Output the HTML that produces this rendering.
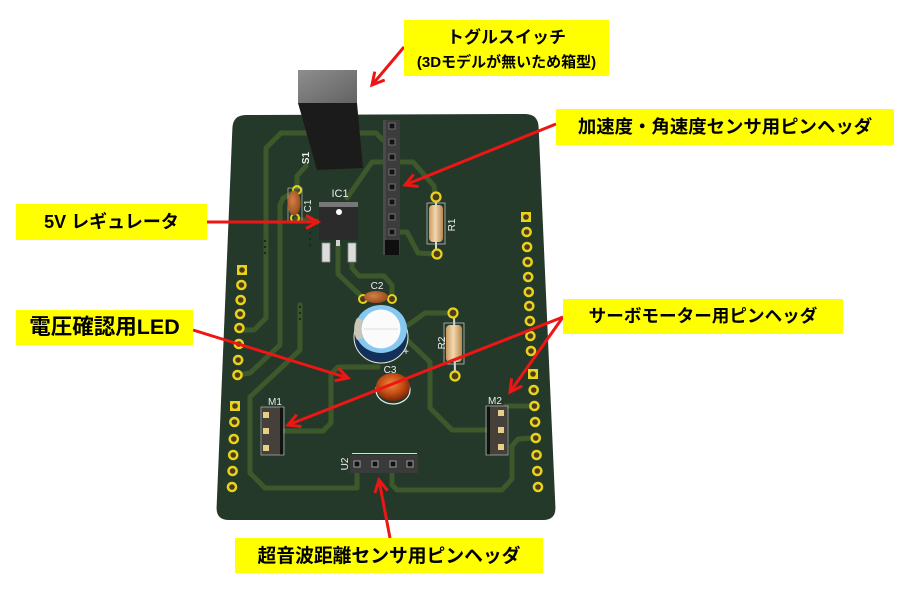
<!DOCTYPE html>
<html><head><meta charset="utf-8">
<style>
html,body{margin:0;padding:0;background:#fff;}
body{width:903px;height:590px;position:relative;overflow:hidden;}
svg{position:absolute;left:0;top:0;}
.lb{position:absolute;background:#ffff00;font-family:"Liberation Sans","Noto Sans CJK JP",sans-serif;font-weight:700;color:#000;white-space:nowrap;text-align:center;}
.ln{position:absolute;left:0;right:0;text-align:center;}
</style></head><body>
<svg width="903" height="590" viewBox="0 0 903 590">
<defs>
 <marker id="ah" markerUnits="userSpaceOnUse" markerWidth="22" markerHeight="22" viewBox="0 0 22 22" refX="16" refY="11" orient="auto">
  <path d="M4,4.5 L16,11 L4,17.5" fill="none" stroke="#ee1515" stroke-width="3"/>
 </marker>
 <linearGradient id="gtop" x1="0" y1="0" x2="1" y2="1">
  <stop offset="0" stop-color="#8e8e8e"/><stop offset="1" stop-color="#626262"/>
 </linearGradient>
 <linearGradient id="res" x1="0" y1="0" x2="1" y2="0">
  <stop offset="0" stop-color="#c89a60"/><stop offset="0.45" stop-color="#f2d8b0"/><stop offset="1" stop-color="#b88850"/>
 </linearGradient>
 <radialGradient id="led" cx="0.45" cy="0.4" r="0.6">
  <stop offset="0" stop-color="#f0883a"/><stop offset="0.6" stop-color="#c04a14"/><stop offset="1" stop-color="#7a2606"/>
 </radialGradient>
 <radialGradient id="cap" cx="0.4" cy="0.4" r="0.6">
  <stop offset="0" stop-color="#d28048"/><stop offset="1" stop-color="#9a4e1c"/>
 </radialGradient>
</defs>

<!-- board -->
<path d="M246,115 L525,114 Q538,114 538.6,127 L555.4,507 Q556,520 543,520 L229,520 Q216,520 216.6,507 L232.4,128 Q233,115 246,115 Z" fill="#24392a"/>

<!-- traces -->
<g fill="none" stroke="#3d592b" stroke-width="5" stroke-linejoin="round" stroke-linecap="round">
 <path d="M383,140 L376,133 L281,133 L266,148 L266,318 L254,330 L240,330"/>
 <path d="M297,190 L297,176 L306,166"/>
 <path d="M293,193 L283,198 L280,205 L280,345 L250,373 L238,375"/>
 <path d="M300,305 L300,350 L250,397 L250,473 L265,488 L357,488 L357,473"/>
 <path d="M283,431 L323,431 L331,423 L331,374 L338,367 L378,367"/>
 <path d="M404,328 L425,313 L452,313"/>
 <path d="M405,338 L430,362 L430,408 L452,430 L488,430"/>
 <path d="M392,473 L392,485 L397,490 L502,490 L512,479 L512,446 L518,439 L533,438"/>
 <path d="M506,406 L533,406"/>
 <path d="M338,245 L338,274 L358,293 L363,298"/>
 <path d="M352,262 L352,268 L359,276 L384,276 L392,285 L392,298"/>
 <path d="M399,162 L413,162 L434,186 L435,195"/>
 <path d="M383,162 L372,162 L347,198"/>
 <path d="M399,232 L407,232 L418,253 L436,254"/>
 <path d="M319,222 L296,219"/>
</g>
<!-- vias dots -->
<g fill="#1a2a1c">
 <circle cx="265" cy="241" r="1.2"/><circle cx="265" cy="247" r="1.2"/><circle cx="265" cy="253" r="1.2"/>
 <circle cx="310" cy="233" r="1.2"/><circle cx="310" cy="239" r="1.2"/><circle cx="310" cy="245" r="1.2"/>
 <circle cx="300" cy="307" r="1.2"/><circle cx="300" cy="313" r="1.2"/><circle cx="300" cy="319" r="1.2"/>
</g>

<!-- pads -->
<g>
 <rect x="521" y="212" width="10" height="10" fill="#e8d21c"/><circle cx="526" cy="217" r="2.8" fill="#4a3c1a"/>
 <g fill="#e8d21c">
  <circle cx="526.6" cy="232" r="5.3"/><circle cx="527.1" cy="247" r="5.3"/><circle cx="527.7" cy="262" r="5.3"/><circle cx="528.2" cy="277" r="5.3"/><circle cx="528.8" cy="292" r="5.3"/><circle cx="529.3" cy="306" r="5.3"/><circle cx="529.9" cy="321" r="5.3"/><circle cx="530.4" cy="336" r="5.3"/><circle cx="531" cy="351" r="5.3"/>
 </g>
 <g fill="#4a3c1a">
  <circle cx="526.6" cy="232" r="2.8"/><circle cx="527.1" cy="247" r="2.8"/><circle cx="527.7" cy="262" r="2.8"/><circle cx="528.2" cy="277" r="2.8"/><circle cx="528.8" cy="292" r="2.8"/><circle cx="529.3" cy="306" r="2.8"/><circle cx="529.9" cy="321" r="2.8"/><circle cx="530.4" cy="336" r="2.8"/><circle cx="531" cy="351" r="2.8"/>
 </g>
 <rect x="528" y="369" width="10" height="10" fill="#e8d21c"/><circle cx="533" cy="374" r="2.8" fill="#4a3c1a"/>
 <g fill="#e8d21c">
  <circle cx="533.7" cy="390" r="5.3"/><circle cx="534.4" cy="406" r="5.3"/><circle cx="535.1" cy="422" r="5.3"/><circle cx="535.8" cy="438" r="5.3"/><circle cx="536.6" cy="455" r="5.3"/><circle cx="537.3" cy="471" r="5.3"/><circle cx="538" cy="487" r="5.3"/>
 </g>
 <g fill="#4a3c1a">
  <circle cx="533.7" cy="390" r="2.8"/><circle cx="534.4" cy="406" r="2.8"/><circle cx="535.1" cy="422" r="2.8"/><circle cx="535.8" cy="438" r="2.8"/><circle cx="536.6" cy="455" r="2.8"/><circle cx="537.3" cy="471" r="2.8"/><circle cx="538" cy="487" r="2.8"/>
 </g>
 <rect x="237" y="265" width="10" height="10" fill="#e8d21c"/><circle cx="242" cy="270" r="2.8" fill="#4a3c1a"/>
 <g fill="#e8d21c">
  <circle cx="241.4" cy="285" r="5.3"/><circle cx="240.7" cy="300" r="5.3"/><circle cx="240.1" cy="314" r="5.3"/><circle cx="239.4" cy="328" r="5.3"/><circle cx="238.8" cy="344" r="5.3"/><circle cx="238.1" cy="360" r="5.3"/><circle cx="237.5" cy="375" r="5.3"/>
 </g>
 <g fill="#4a3c1a">
  <circle cx="241.4" cy="285" r="2.8"/><circle cx="240.7" cy="300" r="2.8"/><circle cx="240.1" cy="314" r="2.8"/><circle cx="239.4" cy="328" r="2.8"/><circle cx="238.8" cy="344" r="2.8"/><circle cx="238.1" cy="360" r="2.8"/><circle cx="237.5" cy="375" r="2.8"/>
 </g>
 <rect x="230" y="401" width="10" height="10" fill="#e8d21c"/><circle cx="235" cy="406" r="2.8" fill="#4a3c1a"/>
 <g fill="#e8d21c">
  <circle cx="234.4" cy="422" r="5.3"/><circle cx="233.8" cy="439" r="5.3"/><circle cx="233.2" cy="455" r="5.3"/><circle cx="232.6" cy="471" r="5.3"/><circle cx="232" cy="487" r="5.3"/>
 </g>
 <g fill="#4a3c1a">
  <circle cx="234.4" cy="422" r="2.8"/><circle cx="233.8" cy="439" r="2.8"/><circle cx="233.2" cy="455" r="2.8"/><circle cx="232.6" cy="471" r="2.8"/><circle cx="232" cy="487" r="2.8"/>
 </g>
</g>

<!-- toggle switch -->
<polygon points="298,103 357,103 363,168 317,170" fill="#1b1b1b"/>
<rect x="298" y="70" width="59" height="33" fill="url(#gtop)"/>

<!-- C1 -->
<rect x="288" y="188" width="14" height="34" fill="none" stroke="#cfcfcf" stroke-width="0.6"/>
<circle cx="297" cy="190" r="4" fill="none" stroke="#e8d21c" stroke-width="2"/>
<circle cx="295" cy="218" r="4" fill="none" stroke="#e8d21c" stroke-width="2"/>
<ellipse cx="294" cy="203" rx="6.5" ry="12.5" fill="url(#cap)"/>

<!-- IC1 -->
<rect x="319" y="203" width="39" height="37" fill="#2b2b2b"/>
<rect x="319" y="202" width="39" height="5" fill="#777"/>
<circle cx="339" cy="212" r="3" fill="#fff"/>
<rect x="322" y="243" width="8" height="19" fill="#dcdcdc" stroke="#8a8a8a" stroke-width="0.8"/>
<rect x="348" y="243" width="8" height="19" fill="#dcdcdc" stroke="#8a8a8a" stroke-width="0.8"/>
<rect x="336" y="240" width="4" height="6" fill="#d0d0d0"/>

<!-- female header -->
<rect x="383" y="120" width="17" height="135" fill="#3c3c3c"/>
<rect x="383" y="120" width="3" height="135" fill="#4a4a4a"/>
<g fill="#121212" stroke="#707070" stroke-width="1">
 <rect x="389" y="123" width="6" height="6"/><rect x="389" y="139" width="6" height="6"/><rect x="389" y="154" width="6" height="6"/><rect x="389" y="169" width="6" height="6"/><rect x="389" y="184" width="6" height="6"/><rect x="389" y="199" width="6" height="6"/><rect x="389" y="214" width="6" height="6"/><rect x="389" y="229" width="6" height="6"/>
</g>
<rect x="385" y="240" width="14" height="15" fill="#0f0f0f"/>

<!-- R1 -->
<line x1="436" y1="197" x2="436" y2="254" stroke="#d8d8d8" stroke-width="2"/>
<circle cx="436" cy="197" r="4.5" fill="#4a3c1a" stroke="#e8d21c" stroke-width="2.2"/>
<circle cx="437" cy="254" r="4.5" fill="#4a3c1a" stroke="#e8d21c" stroke-width="2.2"/>
<rect x="427" y="203" width="18" height="41" fill="none" stroke="#cfcfcf" stroke-width="0.7"/>
<rect x="429" y="205" width="14" height="37" rx="4" fill="url(#res)"/>

<!-- R2 -->
<line x1="454" y1="313" x2="455" y2="376" stroke="#d8d8d8" stroke-width="2"/>
<circle cx="453" cy="313" r="4.5" fill="#4a3c1a" stroke="#e8d21c" stroke-width="2.2"/>
<circle cx="455" cy="376" r="4.5" fill="#4a3c1a" stroke="#e8d21c" stroke-width="2.2"/>
<rect x="444" y="323" width="20" height="41" fill="none" stroke="#cfcfcf" stroke-width="0.7"/>
<rect x="446" y="325" width="16" height="37" rx="4" fill="url(#res)"/>

<!-- C2 -->
<circle cx="363" cy="299" r="4" fill="#4a3c1a" stroke="#e8d21c" stroke-width="2"/>
<circle cx="392" cy="299" r="4" fill="#4a3c1a" stroke="#e8d21c" stroke-width="2"/>
<ellipse cx="376" cy="297" rx="12" ry="6" fill="url(#cap)"/>

<!-- C3 -->
<ellipse cx="381" cy="337" rx="27" ry="26" fill="none" stroke="#e8e8e8" stroke-width="1"/>
<ellipse cx="381" cy="337" rx="26" ry="25" fill="#12305a"/>
<ellipse cx="381" cy="329" rx="26" ry="24" fill="#86c8f0"/>
<path d="M357,318 A26,24 0 0 0 357,340 L363,338 A20,20 0 0 1 363,320 Z" fill="#cbc6b8"/>
<ellipse cx="381" cy="329" rx="19.5" ry="19.5" fill="#fbfbfb"/>
<line x1="364" y1="329" x2="398" y2="329" stroke="#dcdcdc" stroke-width="1"/>
<text x="406" y="355" font-family="Liberation Sans,sans-serif" font-size="10" fill="#eee" text-anchor="middle">+</text>

<!-- LED -->
<ellipse cx="393" cy="390" rx="17" ry="14" fill="none" stroke="#f0f0f0" stroke-width="1.2"/>
<ellipse cx="393" cy="387" rx="17" ry="14" fill="url(#led)"/>

<!-- M1 -->
<rect x="262" y="407" width="21" height="48" fill="#45403a"/>
<rect x="280" y="407" width="3" height="48" fill="#111"/>
<rect x="261" y="407" width="23" height="48" fill="none" stroke="#cfcfcf" stroke-width="0.6"/>
<g fill="#e8cf88"><rect x="263" y="412" width="6" height="6"/><rect x="263" y="428" width="6" height="6"/><rect x="263" y="445" width="6" height="6"/></g>

<!-- M2 -->
<rect x="487" y="406" width="20" height="49" fill="#45403a"/>
<rect x="487" y="406" width="3" height="49" fill="#111"/>
<rect x="486" y="406" width="22" height="49" fill="none" stroke="#cfcfcf" stroke-width="0.6"/>
<g fill="#e8cf88"><rect x="498" y="410" width="6" height="6"/><rect x="498" y="427" width="6" height="6"/><rect x="498" y="444" width="6" height="6"/></g>

<!-- U2 -->
<line x1="352" y1="453.5" x2="417" y2="453.5" stroke="#dcdcdc" stroke-width="1"/>
<rect x="350" y="455" width="68" height="18" fill="#3a3a3a"/>
<g fill="#111" stroke="#9a9a9a" stroke-width="1">
 <rect x="354" y="461" width="6" height="6"/><rect x="372" y="461" width="6" height="6"/><rect x="390" y="461" width="6" height="6"/><rect x="407" y="461" width="6" height="6"/>
</g>

<!-- silkscreen labels -->
<g font-family="Liberation Sans,sans-serif" fill="#eeeeee" font-size="10">
 <text x="340" y="197" text-anchor="middle" font-size="11">IC1</text>
 <text x="377" y="289" text-anchor="middle">C2</text>
 <text x="390" y="373" text-anchor="middle">C3</text>
 <text x="275" y="405" text-anchor="middle">M1</text>
 <text x="495" y="404" text-anchor="middle">M2</text>
 <text transform="translate(309,158) rotate(-90)" text-anchor="middle" font-weight="bold">S1</text>
 <text transform="translate(311,206) rotate(-90)" text-anchor="middle">C1</text>
 <text transform="translate(455,225) rotate(-90)" text-anchor="middle">R1</text>
 <text transform="translate(445,343) rotate(-90)" text-anchor="middle">R2</text>
 <text transform="translate(348,464) rotate(-90)" text-anchor="middle">U2</text>
</g>

<!-- arrows -->
<g stroke="#ee1515" stroke-width="3" fill="none" marker-end="url(#ah)">
 <line x1="404" y1="47" x2="372" y2="85"/>
 <line x1="556" y1="124" x2="405" y2="185"/>
 <line x1="207" y1="222" x2="318" y2="222"/>
 <line x1="193" y1="330" x2="348" y2="378"/>
 <line x1="563" y1="317" x2="288" y2="425"/>
 <line x1="563" y1="317" x2="510" y2="392"/>
 <line x1="390" y1="538" x2="379" y2="480"/>
</g>
</svg>

<div class="lb" style="left:404px;top:20px;width:205px;height:56px;">
 <div class="ln" style="top:7px;height:22px;line-height:22px;font-size:17px;">トグルスイッチ</div>
 <div class="ln" style="top:34px;height:18px;line-height:18px;font-size:15px;">(3Dモデルが無いため箱型)</div>
</div>
<div class="lb" style="left:556px;top:109px;width:338px;height:36px;line-height:36px;font-size:18.4px;">加速度・角速度センサ用ピンヘッダ</div>
<div class="lb" style="left:16px;top:204px;width:191px;height:36px;line-height:36px;font-size:18px;">5V レギュレータ</div>
<div class="lb" style="left:16px;top:310px;width:177px;height:35px;line-height:35px;font-size:21.5px;">電圧確認用LED</div>
<div class="lb" style="left:563px;top:299px;width:280px;height:35px;line-height:35px;font-size:17.6px;">サーボモーター用ピンヘッダ</div>
<div class="lb" style="left:235px;top:538px;width:308px;height:35px;line-height:35px;font-size:18.8px;">超音波距離センサ用ピンヘッダ</div>
</body></html>
